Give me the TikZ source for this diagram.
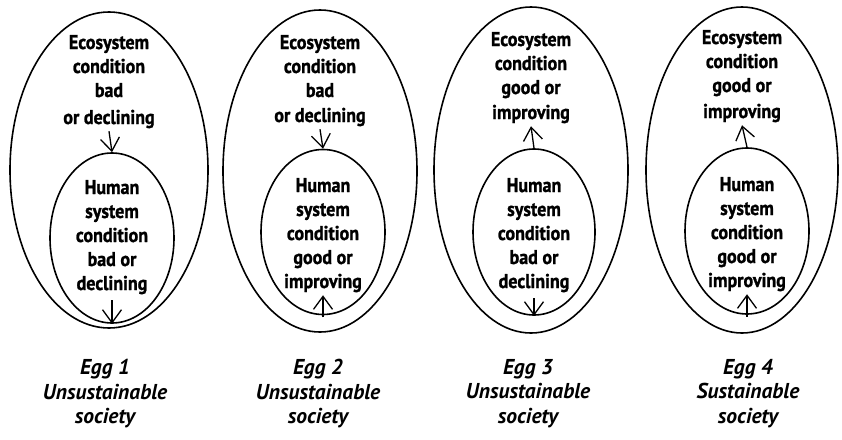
\documentclass[tikz,border=0pt]{standalone}
\usepackage{fontspec}
\setmainfont{PT Sans}[FakeStretch=0.9, BoldFeatures={FakeBold=1.2}]
\newfontfamily\capfont{PT Sans}[BoldFeatures={FakeBold=1}]
\usetikzlibrary{shapes.geometric,arrows.meta}
\begin{document}
\begin{tikzpicture}[x=1pt,y=-1pt,
  shell/.style={draw, ellipse, line width=1.6pt, inner sep=0pt},
  label/.style={align=center, inner sep=0pt, outer sep=3pt, anchor=north,
    font=\fontsize{20}{24}\selectfont\bfseries},
  caption/.style={align=center, inner sep=0pt, anchor=north,
    font=\capfont\fontsize{21.5}{24.5}\selectfont\bfseries\itshape},
  flow/.style={line width=1.3pt, arrows={-Straight Barb[length=13pt,width=19pt]}}]
\useasboundingbox (0,0) rectangle (842,439);

% Egg 1
\node[shell, minimum width=198pt, minimum height=316pt] (out1) at (109,170) {};
\node[shell, minimum width=124pt, minimum height=170pt] (in1) at (112,238) {};
\node[label] (eco1) at (109,32) {Ecosystem\\condition\\bad\\[3pt]or declining};
\node[label] (hum1) at (112,177) {Human\\system\\condition\\bad or\\declining};
\draw[flow] (eco1.south) -- (in1.north);
\draw[flow, shorten <=3pt] (hum1.south) -- (in1.south);
\node[caption] (cap1) at (105,359) {Egg 1\\Unsustainable\\society};

% Egg 2
\node[shell, minimum width=194pt, minimum height=322pt] (out2) at (320,171) {};
\node[shell, minimum width=124pt, minimum height=165pt] (in2) at (323,232) {};
\node[label] (eco2) at (320,32) {Ecosystem\\condition\\bad\\[1pt]or declining};
\node[label] (hum2) at (323,175) {Human\\system\\condition\\good or\\improving};
\draw[flow] (eco2.south) -- (in2.north);
\draw[flow] ([yshift=-2pt]in2.south) -- (hum2.south);
\node[caption] (cap2) at (318,359) {Egg 2\\Unsustainable\\society};

% Egg 3
\node[shell, minimum width=194pt, minimum height=326pt] (out3) at (531,170) {};
\node[shell, minimum width=122pt, minimum height=166pt] (in3) at (534,232) {};
\node[label] (eco3) at (531,29) {Ecosystem\\condition\\good or\\[1pt]improving};
\node[label] (hum3) at (534,175) {Human\\system\\condition\\bad or\\declining};
\draw[flow] (in3.north) -- (eco3.south);
\draw[flow, shorten <=3pt] (hum3.south) -- (in3.south);
\node[caption] (cap3) at (528,359) {Egg 3\\Unsustainable\\society};

% Egg 4
\node[shell, minimum width=192pt, minimum height=326pt] (out4) at (742,170) {};
\node[shell, minimum width=124pt, minimum height=166pt] (in4) at (747,231) {};
\node[label] (eco4) at (742,27) {Ecosystem\\condition\\good or\\[2pt]improving};
\node[label] (hum4) at (747,174) {Human\\system\\condition\\good or\\improving};
\draw[flow] (in4.north) -- (eco4.south);
\draw[flow] ([yshift=-2pt]in4.south) -- (hum4.south);
\node[caption] (cap4) at (748,359) {Egg 4\\Sustainable\\society};
\end{tikzpicture}
\end{document}
